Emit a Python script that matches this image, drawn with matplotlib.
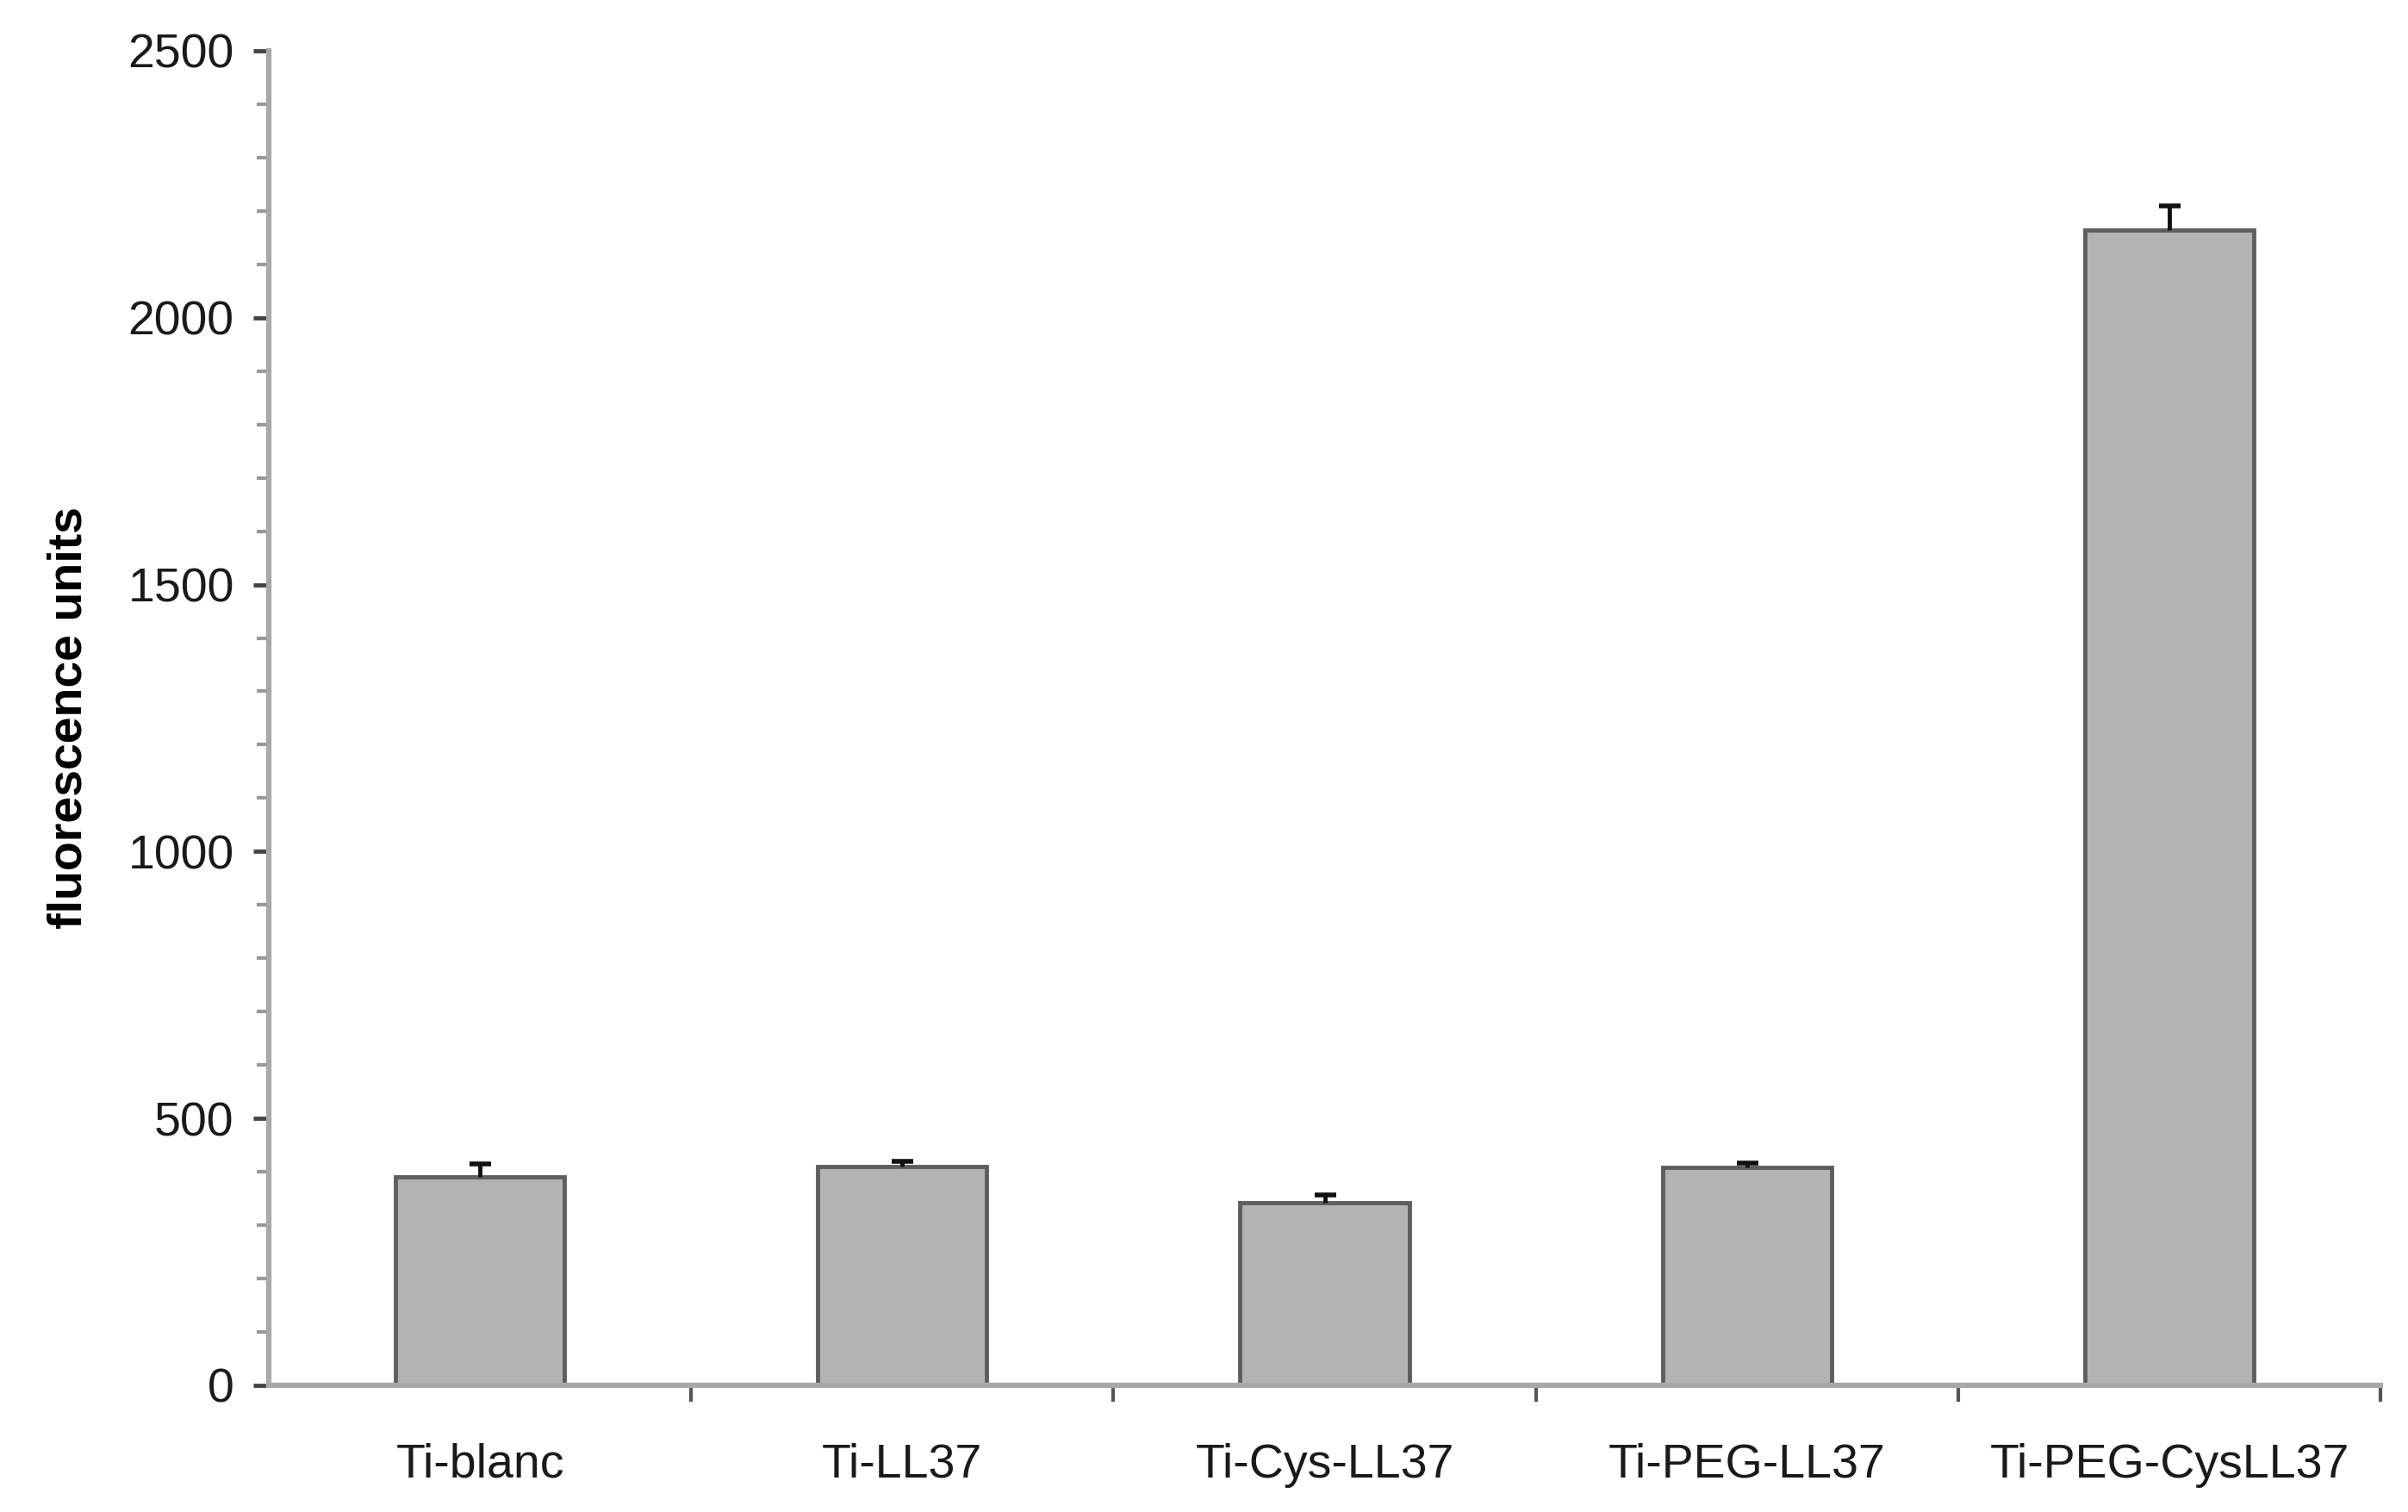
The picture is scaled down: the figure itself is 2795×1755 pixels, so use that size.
import numpy as np
import matplotlib.pyplot as plt
from matplotlib.ticker import MultipleLocator, FixedLocator

# fluorescence per surface type
groups = ['Ti-blanc', 'Ti-LL37', 'Ti-Cys-LL37', 'Ti-PEG-LL37', 'Ti-PEG-CysLL37']
fluor = [390, 410, 342, 408, 2165]
err = [25, 10, 15, 8, 45]

plt.rcParams['font.family'] = ['Liberation Sans', 'DejaVu Sans']

fig = plt.figure(figsize=(27.95, 17.55), dpi=100)
ax = fig.add_axes([0.1116, 0.0838, 0.877, 0.8826])

x = np.arange(len(groups))
ax.bar(x, fluor, width=0.4, color='#b3b3b3', edgecolor='#5e5e5e', linewidth=3.5, zorder=2)
# upper error only: hide the cap sitting on the bar top
eb = ax.errorbar(x, fluor, yerr=[np.zeros(len(err)), err], fmt='none', ecolor='#111111',
                 elinewidth=3.5, capsize=9, capthick=4, zorder=3)
eb[1][0].set_visible(False)

ax.set_xlim(-0.5, len(groups) - 0.5)
ax.set_ylim(0, 2500)

# spines: only left and bottom, light grey
for s in ['top', 'right']:
    ax.spines[s].set_visible(False)
for s in ['left', 'bottom']:
    ax.spines[s].set_color('#a8a8a8')
    ax.spines[s].set_linewidth(4.5)

ax.yaxis.set_major_locator(MultipleLocator(500))
ax.yaxis.set_minor_locator(MultipleLocator(100))
ax.tick_params(axis='y', which='major', length=13, width=3.5, color='#444444',
               labelsize=40, pad=16)
ax.tick_params(axis='y', which='minor', length=10, width=3, color='#999999')

# labels at bar centres, ticks between categories
ax.set_xticks(x)
ax.set_xticklabels(groups)
ax.xaxis.set_minor_locator(FixedLocator(np.arange(0.5, len(groups), 1.0)))
ax.tick_params(axis='x', which='major', length=0, labelsize=40, pad=48)
ax.tick_params(axis='x', which='minor', length=14, width=3, color='#555555')

for lab in ax.get_xticklabels() + ax.get_yticklabels():
    lab.set_color('#1a1a1a')

ax.set_ylabel('fluorescence units', fontsize=40, fontweight='bold', labelpad=30)

fig.savefig('out.png', dpi=100)
